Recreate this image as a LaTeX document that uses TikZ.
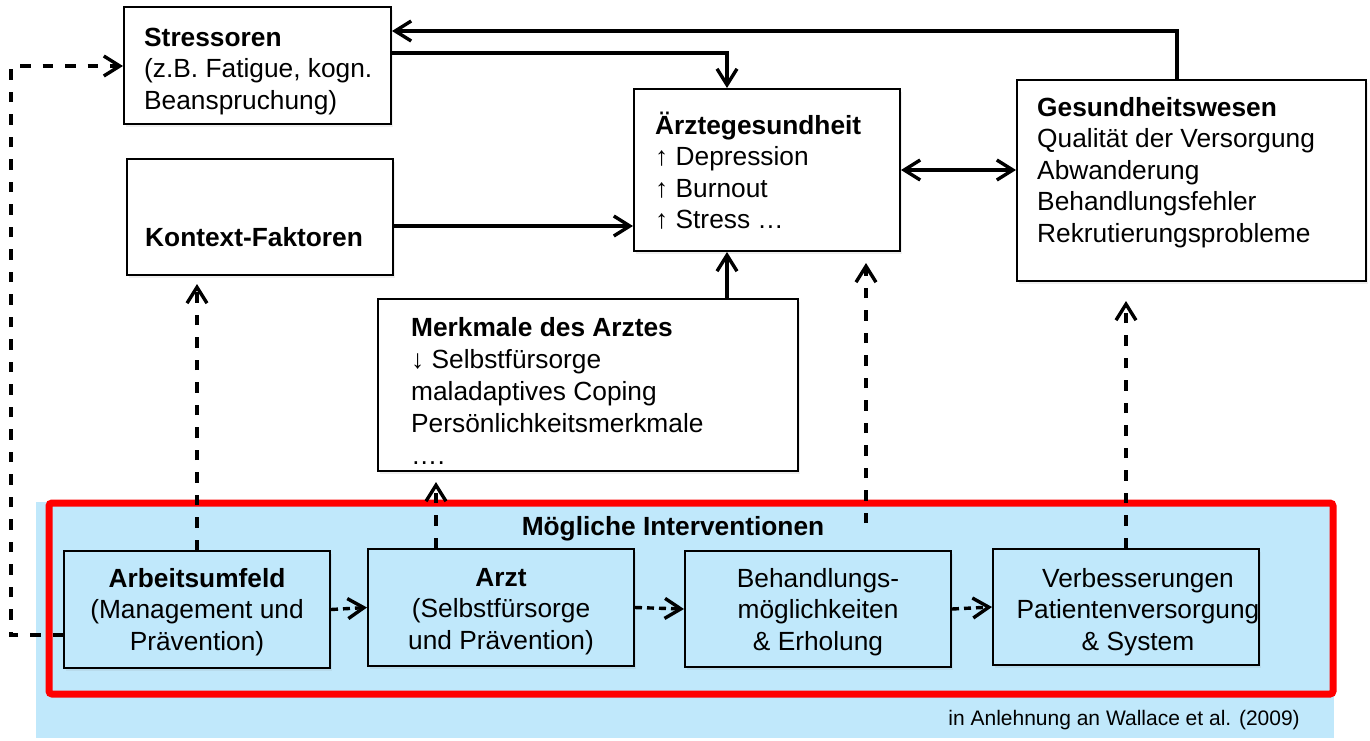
\documentclass[tikz,border=0pt]{standalone}
\usepackage{fontspec}
\setmainfont{Liberation Sans}
\usetikzlibrary{arrows.meta,shadows,calc}
\definecolor{ltblue}{RGB}{192,232,251}
\definecolor{framered}{RGB}{255,0,0}
\begin{document}
\begin{tikzpicture}[x=1pt,y=-1pt,
  box/.style={draw=black, line width=2pt, fill=white, inner sep=0pt,
    drop shadow={shadow xshift=2pt, shadow yshift=-3pt, opacity=0.12}},
  ibox/.style={box, fill=ltblue},
  txt/.style={inner sep=0pt, font=\fontsize{26.3pt}{31.5pt}\selectfont},
  arr/.style={line width=3.4pt, -{Straight Barb[length=16pt,width=20pt]}},
  arrboth/.style={line width=3.4pt, {Straight Barb[length=16pt,width=20pt]}-{Straight Barb[length=16pt,width=20pt]}},
  darr/.style={arr, dash pattern=on 10.5pt off 12pt},
  sdarr/.style={arr, dash pattern=on 7pt off 5pt}
]
\useasboundingbox (0,0) rectangle (1370,740);
\fill[white] (0,0) rectangle (1370,740);

% background of interventions
\fill[ltblue] (36,502) rectangle (1334,738);
\draw[framered, line width=7pt, rounded corners=3pt] (49,503) rectangle (1333,694);

% upper boxes
\node[box, minimum width=267pt, minimum height=117pt] (stress) at (257.5,65.5) {};
\node[box, minimum width=266pt, minimum height=116pt] (kontext) at (260,217) {};
\node[box, minimum width=266pt, minimum height=162pt] (aerzte) at (767,170) {};
\node[box, minimum width=349pt, minimum height=201pt] (ges) at (1191.5,180.5) {};
\node[box, minimum width=420pt, minimum height=172pt] (merk) at (588,385) {};

% lower boxes
\node[ibox, minimum width=266pt, minimum height=117pt] (arb) at (197,609.5) {};
\node[ibox, minimum width=266pt, minimum height=117pt] (arzt) at (501,607.5) {};
\node[ibox, minimum width=266pt, minimum height=116pt] (beh) at (818,609) {};
\node[ibox, minimum width=266pt, minimum height=116pt] (verb) at (1126,607) {};

% texts
\node[txt, anchor=base west] (stressT) at (144,46) {\begin{tabular}[t]{@{}l@{}}\textbf{Stressoren}\\(z.B. Fatigue, kogn.\\Beanspruchung)\end{tabular}};
\node[txt, anchor=base west] (kontextT) at (145,246) {\textbf{Kontext-Faktoren}};
\node[txt, anchor=base west] (aerzteT) at (655,134) {\begin{tabular}[t]{@{}l@{}}\textbf{Ärztegesundheit}\\↑ Depression\\↑ Burnout\\↑ Stress …\end{tabular}};
\node[txt, anchor=base west] (gesT) at (1037,116) {\begin{tabular}[t]{@{}l@{}}\textbf{Gesundheitswesen}\\Qualität der Versorgung\\Abwanderung\\Behandlungsfehler\\Rekrutierungsprobleme\end{tabular}};
\node[txt, anchor=base west, font=\fontsize{26.3pt}{32pt}\selectfont] (merkT) at (411,336) {\begin{tabular}[t]{@{}l@{}}\textbf{Merkmale des Arztes}\\↓ Selbstfürsorge\\maladaptives Coping\\Persönlichkeitsmerkmale\\….\end{tabular}};

\node[txt, anchor=base] (title) at (673,535) {\textbf{Mögliche Interventionen}};
\node[txt, anchor=base] (arbT) at (197,587) {\begin{tabular}[t]{@{}c@{}}\textbf{Arbeitsumfeld}\\(Management und\\Prävention)\end{tabular}};
\node[txt, anchor=base] (arztT) at (501,586) {\begin{tabular}[t]{@{}c@{}}\textbf{Arzt}\\(Selbstfürsorge\\und Prävention)\end{tabular}};
\node[txt, anchor=base] (behT) at (818,587) {\begin{tabular}[t]{@{}c@{}}Behandlungs-\\möglichkeiten\\\& Erholung\end{tabular}};
\node[txt, anchor=base] (verbT) at (1138,587) {\begin{tabular}[t]{@{}c@{}}Verbesserungen\\Patientenversorgung\\\& System\end{tabular}};
\node[inner sep=0pt, anchor=base east, font=\fontsize{21pt}{25pt}\selectfont] (cite) at (1300,725) {in Anlehnung an Wallace et al. (2009)};

% solid connectors
\coordinate (s1) at ([yshift=34.5pt]stress.east);
\draw[arr] ([xshift=161pt]ges.north west) |- (s1);
\draw[arr] ([yshift=12.5pt]stress.east) -| ([xshift=94pt]aerzte.north west);
\coordinate (k1) at ([yshift=-9pt]kontext.east);
\draw[arr] (k1) -- (k1 -| aerzte.west);
\coordinate (m1) at ([xshift=350pt]merk.north west);
\draw[arr] (m1) -- (m1 |- aerzte.south);
\draw[arrboth] (aerzte.east) -- (aerzte.east -| ges.west);

% dashed connectors
\draw[darr, shorten >=8pt] (arb.north) -- (arb.north |- kontext.south);
\coordinate (a1) at ([xshift=69pt]arzt.north west);
\draw[darr, shorten >=10pt] (a1) -- (a1 |- merk.south);
\coordinate (i1) at (866,523);
\draw[darr, shorten >=11pt] (i1) -- (i1 |- aerzte.south);
\draw[darr, shorten >=19pt] (verb.north) -- (verb.north |- ges.south);
\draw[sdarr] (arb.east) -- (arzt.west);
\draw[sdarr] (arzt.east) -- (beh.west);
\draw[sdarr] (beh.east) -- (verb.west);
\coordinate (L) at (11,66);
\draw[darr] ([yshift=-25.5pt]arb.west) -| (L) -- (L -| stress.west);
\end{tikzpicture}
\end{document}
